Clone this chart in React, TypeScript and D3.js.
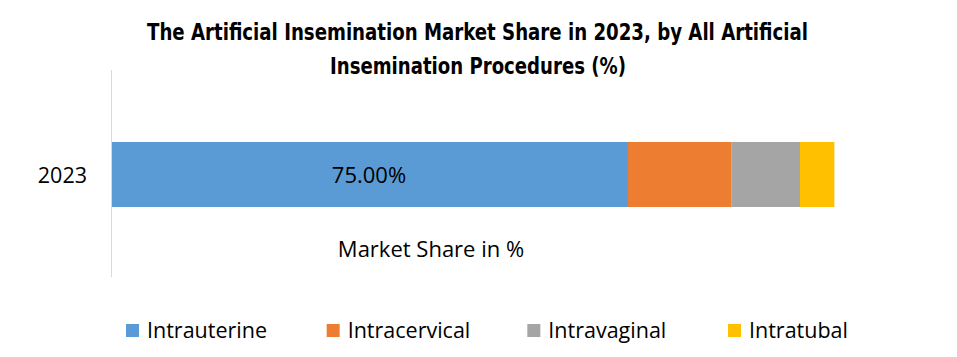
import React from "react";
import * as d3 from "d3";

const categories = ["2023"];
const seriesNames = ["Intrauterine", "Intracervical", "Intravaginal", "Intratubal"];
const seriesValues = [75, 15, 10, 5];
const seriesColors = ["#5B9BD5", "#ED7D31", "#A5A5A5", "#FFC000"];
const titleLines = [
  "The Artificial Insemination Market Share in 2023, by All Artificial",
  "Insemination Procedures (%)",
];
const axisTitle = "Market Share in %";
const dataLabels = ["75.00%", "", "", ""];

const W = 957;
const H = 357;
const FONT = "'Open Sans', 'Noto Sans', sans-serif";
const TFONT = "'Liberation Sans Narrow', 'DejaVu Sans Condensed', sans-serif";

export default function App() {
  const x = d3.scaleLinear().domain([0, 120]).range([112, 112 + 6.88 * 120]);
  const y = d3.scaleBand<string>().domain(categories).range([71, 278]).paddingInner(0.522).paddingOuter(0.522);

  const stacked: { name: string; x0: number; x1: number; color: string; label: string }[] = [];
  let acc = 0;
  seriesValues.forEach((v, i) => {
    stacked.push({ name: seriesNames[i], x0: acc, x1: acc + v, color: seriesColors[i], label: dataLabels[i] });
    acc += v;
  });

  const legendX = d3.scalePoint<string>().domain(seriesNames).range([126, 728]);

  return (
    <svg width={W} height={H} style={{ position: "absolute", left: 0, top: 0 }}>
      <rect width={W} height={H} fill="#fff" />
      <text x={477.5} y={40} textAnchor="middle" fontFamily={TFONT} fontWeight="bold" fontSize={23} textLength={661} lengthAdjust="spacingAndGlyphs" fill="#000">
        {titleLines[0]}
      </text>
      <text x={478} y={74} textAnchor="middle" fontFamily={TFONT} fontWeight="bold" fontSize={23} textLength={296} lengthAdjust="spacingAndGlyphs" fill="#000">
        {titleLines[1]}
      </text>
      <line x1={111.5} x2={111.5} y1={70} y2={277} stroke="#d9d9d9" strokeWidth={1} />
      {categories.map((c) => (
        <g key={c}>
          {stacked.map((s) => (
            <rect key={s.name} x={x(s.x0)} y={y(c)} width={x(s.x1) - x(s.x0)} height={y.bandwidth()} fill={s.color} />
          ))}
          {stacked.map((s) =>
            s.label ? (
              <text key={"l" + s.name} x={(x(s.x0) + x(s.x1)) / 2 - 1} y={(y(c) as number) + y.bandwidth() / 2 + 8.5} textAnchor="middle" fontFamily={FONT} fontSize={22} fill="#000">
                {s.label}
              </text>
            ) : null
          )}
          <text x={87} y={(y(c) as number) + y.bandwidth() / 2 + 8} textAnchor="end" fontFamily={FONT} fontSize={21.5} fill="#000">
            {c}
          </text>
        </g>
      ))}
      <text x={431} y={257} textAnchor="middle" fontFamily={FONT} fontSize={22} fill="#000">
        {axisTitle}
      </text>
      {seriesNames.map((n, i) => (
        <g key={n} transform={`translate(${legendX(n)},0)`}>
          <rect x={0} y={324} width={13} height={13} fill={seriesColors[i]} />
          <text x={21} y={338} fontFamily={FONT} fontSize={21.5} fill="#000">
            {n}
          </text>
        </g>
      ))}
    </svg>
  );
}
